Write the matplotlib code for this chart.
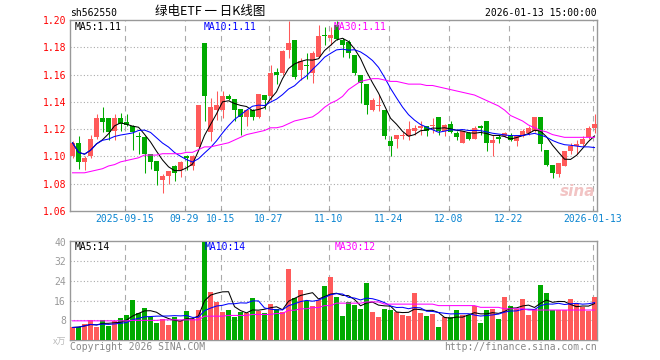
import numpy as np
import pandas as pd
import matplotlib
matplotlib.use('Agg')
import matplotlib.pyplot as plt

# daily candles, 2025-09-02 .. 2026-01-13
opens = [1.100, 1.110, 1.096, 1.100, 1.114, 1.128, 1.128, 1.119, 1.128, 1.125,
         1.122, 1.115, 1.114, 1.102, 1.097, 1.083, 1.086, 1.093, 1.090, 1.100,
         1.093, 1.107, 1.183, 1.118, 1.134, 1.134, 1.144, 1.142, 1.135, 1.129,
         1.134, 1.129, 1.145, 1.144, 1.162, 1.161, 1.178, 1.185, 1.163, 1.167,
         1.161, 1.173, 1.189, 1.187, 1.196, 1.185, 1.184, 1.174, 1.160, 1.153,
         1.134, 1.137, 1.134, 1.111, 1.113, 1.115, 1.115, 1.119, 1.121, 1.122,
         1.122, 1.129, 1.119, 1.124, 1.117, 1.110, 1.117, 1.113, 1.122, 1.126,
         1.110, 1.114, 1.115, 1.116, 1.111, 1.115, 1.117, 1.119, 1.129, 1.105,
         1.094, 1.087, 1.093, 1.104, 1.108, 1.109, 1.114, 1.121]
highs = [1.111, 1.115, 1.100, 1.116, 1.131, 1.136, 1.128, 1.131, 1.132, 1.131,
         1.123, 1.118, 1.115, 1.102, 1.097, 1.087, 1.089, 1.094, 1.097, 1.101,
         1.101, 1.138, 1.183, 1.143, 1.148, 1.148, 1.146, 1.142, 1.135, 1.134,
         1.135, 1.146, 1.145, 1.167, 1.165, 1.178, 1.199, 1.185, 1.172, 1.176,
         1.177, 1.196, 1.195, 1.195, 1.199, 1.187, 1.185, 1.174, 1.160, 1.153,
         1.143, 1.145, 1.134, 1.115, 1.116, 1.118, 1.126, 1.123, 1.126, 1.122,
         1.128, 1.129, 1.124, 1.126, 1.119, 1.119, 1.118, 1.122, 1.123, 1.126,
         1.116, 1.116, 1.118, 1.117, 1.116, 1.120, 1.122, 1.129, 1.129, 1.105,
         1.094, 1.095, 1.104, 1.110, 1.112, 1.115, 1.122, 1.131]
lows = [1.099, 1.091, 1.090, 1.099, 1.113, 1.118, 1.112, 1.112, 1.119, 1.122,
        1.105, 1.102, 1.088, 1.091, 1.079, 1.073, 1.080, 1.082, 1.085, 1.090,
        1.090, 1.106, 1.126, 1.111, 1.127, 1.128, 1.141, 1.126, 1.116, 1.122,
        1.127, 1.128, 1.135, 1.141, 1.153, 1.160, 1.172, 1.157, 1.156, 1.157,
        1.154, 1.172, 1.182, 1.182, 1.185, 1.173, 1.172, 1.160, 1.139, 1.131,
        1.133, 1.133, 1.113, 1.100, 1.106, 1.113, 1.112, 1.116, 1.116, 1.115,
        1.117, 1.116, 1.115, 1.117, 1.112, 1.110, 1.112, 1.113, 1.116, 1.104,
        1.100, 1.110, 1.114, 1.111, 1.108, 1.114, 1.116, 1.118, 1.104, 1.093,
        1.084, 1.085, 1.093, 1.102, 1.102, 1.108, 1.113, 1.117]
closes = [1.110, 1.096, 1.099, 1.113, 1.128, 1.125, 1.118, 1.128, 1.124, 1.123,
          1.118, 1.114, 1.102, 1.096, 1.089, 1.086, 1.089, 1.088, 1.096, 1.099,
          1.100, 1.138, 1.144, 1.136, 1.138, 1.144, 1.142, 1.134, 1.129, 1.134,
          1.129, 1.146, 1.141, 1.161, 1.160, 1.177, 1.183, 1.158, 1.170, 1.166,
          1.176, 1.188, 1.188, 1.189, 1.186, 1.182, 1.176, 1.161, 1.154, 1.138,
          1.141, 1.138, 1.115, 1.108, 1.116, 1.115, 1.120, 1.121, 1.122, 1.119,
          1.122, 1.119, 1.123, 1.118, 1.114, 1.119, 1.113, 1.121, 1.121, 1.110,
          1.112, 1.113, 1.117, 1.112, 1.115, 1.119, 1.121, 1.129, 1.109, 1.094,
          1.088, 1.095, 1.104, 1.108, 1.109, 1.113, 1.121, 1.124]
ma30 = [1.088, 1.088, 1.088, 1.089, 1.090, 1.091, 1.093, 1.094, 1.096, 1.097,
        1.098, 1.099, 1.101, 1.101, 1.101, 1.102, 1.102, 1.102, 1.102, 1.103,
        1.103, 1.105, 1.107, 1.107, 1.108, 1.109, 1.110, 1.112, 1.114, 1.116,
        1.117, 1.118, 1.119, 1.121, 1.121, 1.122, 1.124, 1.126, 1.127, 1.128,
        1.129, 1.132, 1.136, 1.139, 1.141, 1.144, 1.149, 1.152, 1.155, 1.156,
        1.157, 1.157, 1.156, 1.155, 1.155, 1.154, 1.153, 1.153, 1.153, 1.152,
        1.152, 1.151, 1.150, 1.149, 1.148, 1.147, 1.146, 1.145, 1.143, 1.141,
        1.139, 1.137, 1.134, 1.130, 1.128, 1.126, 1.123, 1.121, 1.119, 1.118,
        1.116, 1.115, 1.114, 1.114, 1.114, 1.114, 1.114, 1.114]

# volume in 万手
vols = [5.1, 5.4, 6.7, 8.1, 5.4, 8.1, 5.7, 7.8, 8.9, 10.1,
        16.2, 11.1, 13.0, 9.2, 7.0, 8.4, 6.1, 9.2, 7.8, 11.7,
        8.4, 12.1, 39.7, 19.4, 15.5, 11.3, 12.4, 9.2, 11.5, 10.8,
        17.3, 11.9, 11.1, 14.6, 12.7, 11.3, 29.1, 17.0, 20.5, 15.7,
        14.0, 16.2, 21.9, 25.6, 17.5, 9.7, 15.5, 14.2, 12.7, 23.2,
        11.5, 9.4, 12.7, 12.1, 11.3, 10.3, 9.9, 19.2, 11.1, 9.7,
        10.5, 5.3, 9.4, 9.4, 12.1, 10.3, 10.0, 13.8, 7.0, 12.1,
        12.7, 8.6, 17.5, 13.8, 12.7, 16.7, 10.3, 12.7, 22.4, 19.2,
        12.1, 12.1, 12.4, 16.6, 14.6, 13.5, 11.9, 17.5]
vol_ma30 = [7.8, 7.8, 7.8, 7.8, 7.8, 7.8, 7.8, 7.8, 7.8, 7.8,
            8.0, 8.0, 8.0, 8.0, 8.0, 8.2, 8.2, 8.2, 8.2, 8.2,
            8.2, 8.2, 9.7, 9.7, 9.7, 9.7, 10.0, 10.0, 10.0, 10.0,
            10.4, 10.4, 10.4, 10.4, 10.8, 10.8, 12.1, 12.1, 12.7, 12.7,
            13.2, 13.2, 14.0, 14.0, 15.0, 15.0, 15.0, 15.0, 15.0, 15.5,
            15.5, 15.5, 14.6, 14.6, 14.6, 14.6, 14.6, 14.6, 14.6, 14.6,
            14.6, 14.0, 14.0, 14.0, 14.0, 14.0, 14.0, 14.0, 13.3, 13.3,
            13.3, 13.3, 12.7, 12.7, 12.7, 12.7, 12.2, 12.2, 12.2, 12.2,
            12.2, 12.2, 12.2, 12.2, 12.2, 12.2, 12.2, 12.2]

tick_idx = [9, 19, 25, 33, 43, 53, 63, 73, 87]
tick_labels = ['2025-09-15', '09-29', '10-15', '10-27', '11-10',
               '11-24', '12-08', '12-22', '2026-01-13']
price_ticks = [1.20, 1.18, 1.16, 1.14, 1.12, 1.10, 1.08, 1.06]
vol_ticks = [40, 32, 24, 16, 8]

RED = '#ff5a5a'
GREEN = '#00aa00'
GRID = '#aaaaaa'
MONO = 'DejaVu Sans Mono'

W, H = 660, 360


def px(x, y):
    return x / W, 1 - y / H


o = np.array(opens)
h = np.array(highs)
l = np.array(lows)
c = np.array(closes)
v = np.array(vols)
x = np.arange(len(c))
colors = np.where(c >= o, RED, GREEN)

ma5 = pd.Series(c).rolling(5, min_periods=1).mean()
ma10 = pd.Series(c).rolling(10, min_periods=1).mean()
vma5 = pd.Series(v).rolling(5, min_periods=1).mean()
vma10 = pd.Series(v).rolling(10, min_periods=1).mean()

fig = plt.figure(figsize=(6.6, 3.6), dpi=100)
fig.patch.set_facecolor('white')

ax = fig.add_axes([70 / W, 1 - 211 / H, 527 / W, 191 / H])
axv = fig.add_axes([70 / W, 1 - 340 / H, 527 / W, 99 / H])

xl = (-0.42, -0.42 + 527 / 6)
lw = 0.75

# candles
ax.vlines(x, l, h, colors=colors, linewidth=lw, zorder=3)
ax.bar(x, np.maximum(np.abs(c - o), 0.0008), 0.83, bottom=np.minimum(o, c),
       color=colors, linewidth=0, zorder=3)
ax.plot(x, ma5, color='black', lw=lw, zorder=4)
ax.plot(x, ma10, color='#0000ff', lw=lw, zorder=4)
ax.plot(x, ma30, color='#ff00ff', lw=lw, zorder=4)

# volume
axv.bar(x, v, 0.83, color=colors, linewidth=0, zorder=3)
axv.plot(x, vma5, color='black', lw=lw, zorder=4)
axv.plot(x, vma10, color='#0000ff', lw=lw, zorder=4)
axv.plot(x, vol_ma30, color='#ff00ff', lw=lw, zorder=4)

ax.set_ylim(1.06, 1.20)
axv.set_ylim(0, 40.3)
for a in (ax, axv):
    a.set_xlim(*xl)
    for s in a.spines.values():
        s.set_color('#999999')
        s.set_linewidth(1)
    a.set_xticks([])
    a.set_yticks([])
    for t in tick_idx:
        a.axvline(t - 0.33, color=GRID, lw=0.8, ls=(0, (5, 4)), zorder=1)

for p in price_ticks[1:-1]:
    ax.axhline(p, color=GRID, lw=0.8, ls=(0, (1, 2)), zorder=1)
for vv in vol_ticks[1:]:
    axv.axhline(vv, color=GRID, lw=0.8, ls=(0, (1, 2)), zorder=1)

# small ticks on the price panel bottom
for t in tick_idx:
    ax.plot([t - 0.33, t - 0.33], [1.06, 1.0615], color='#999999', lw=0.8,
            zorder=5, clip_on=False)

# axis labels
for p in price_ticks:
    y = 20 + (1.20 - p) / 0.14 * 191
    fig.text(*px(66, y + 1), '%.2f' % p, color='red', family=MONO,
             fontsize=7, ha='right', va='center')
for vv in vol_ticks:
    y = 340 - vv / 40.3 * 99
    fig.text(*px(66, y + 1), str(vv), color='#999999', family=MONO,
             fontsize=7, ha='right', va='center')
fig.text(*px(66, 342), 'x万', color='#bbbbbb', fontsize=6.5, ha='right',
         va='center', family=['Noto Sans CJK SC', 'DejaVu Sans'])

for t, lab in zip(tick_idx, tick_labels):
    fig.text(*px(70 + 6 * t + 0.5, 219), lab, color='#0a84d0', family=MONO,
             fontsize=7, ha='center', va='center')

# header
fig.text(*px(70, 13), 'sh562550', family=MONO, fontsize=7, ha='left',
         va='center', color='black')
fig.text(*px(210, 12), '绿电ETF 一 日K线图', fontsize=9, ha='center',
         va='center', family=['Noto Sans CJK SC', 'DejaVu Sans'], color='black')
fig.text(*px(597, 13), '2026-01-13 15:00:00', family=MONO, fontsize=7,
         ha='right', va='center', color='black')

# legends
fig.text(*px(75, 27), 'MA5:1.11', family=MONO, fontsize=7, color='black',
         va='center')
fig.text(*px(204, 27), 'MA10:1.11', family=MONO, fontsize=7, color='#0000ff',
         va='center')
fig.text(*px(334, 27), 'MA30:1.11', family=MONO, fontsize=7, color='#ff00ff',
         va='center')
fig.text(*px(75, 247), 'MA5:14', family=MONO, fontsize=7, color='black',
         va='center')
fig.text(*px(205, 247), 'MA10:14', family=MONO, fontsize=7, color='#0000ff',
         va='center')
fig.text(*px(335, 247), 'MA30:12', family=MONO, fontsize=7, color='#ff00ff',
         va='center')

# footer
fig.text(*px(70, 347), 'Copyright 2026 SINA.COM', family=MONO, fontsize=7,
         color='#888888', va='center')
fig.text(*px(597, 347), 'http://finance.sina.com.cn', family=MONO, fontsize=7,
         color='#888888', va='center', ha='right')

# watermark
fig.text(*px(578, 192), 'sina', fontsize=11, fontweight='bold',
         style='italic', color='#f2c4c4', ha='center', va='center', zorder=0)

fig.savefig('out.png', dpi=100)
